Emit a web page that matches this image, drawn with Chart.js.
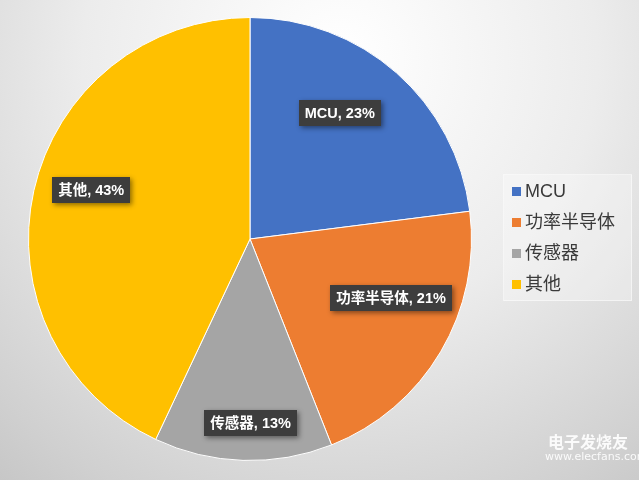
<!DOCTYPE html>
<html>
<head>
<meta charset="utf-8">
<script src="https://cdn.jsdelivr.net/npm/chart.js@4"></script>
<style>
html, body { margin: 0; padding: 0; }
body { width: 639px; height: 480px; overflow: hidden; }
#wrap { position: relative; width: 639px; height: 480px; }
</style>
</head>
<body>
<div id="wrap"><canvas id="pieChart" width="639" height="480"></canvas></div>
<script>
const categories = ['MCU', '功率半导体', '传感器', '其他'];
const shares = [23, 21, 13, 43];
const colors = ['#4472C4', '#ED7D31', '#A5A5A5', '#FFC000'];

const ctx = document.getElementById('pieChart');

// gray radial background like the office chart area
const bgPlugin = {
	id: 'bg',
	beforeDraw(chart){
		const c = chart.ctx;
		const g = c.createRadialGradient(340, 60, 10, 340, 60, 560);
		g.addColorStop(0, '#ffffff');
		g.addColorStop(0.45, '#ececec');
		g.addColorStop(0.85, '#d0d0d0');
		g.addColorStop(1, '#c4c4c4');
		c.save();
		c.fillStyle = g;
		c.fillRect(0, 0, chart.width, chart.height);
		c.restore();
	}
};

// boxed data labels, placed around the mid angle of each slice
const labelPlugin = {
	id: 'boxLabels',
	afterDatasetsDraw(chart, args, opts){
		const c = chart.ctx;
		const meta = chart.getDatasetMeta(0);
		c.save();
		c.font = 'bold 14.5px "Liberation Sans", "Noto Sans CJK SC", sans-serif';
		c.textAlign = 'center';
		c.textBaseline = 'middle';
		meta.data.forEach((arc, i) => {
			const p = arc.getProps(['x', 'y', 'startAngle', 'endAngle', 'outerRadius']);
			const a = (p.startAngle + p.endAngle) / 2 + opts.angleShift[i] * Math.PI / 180;
			const r = p.outerRadius * opts.radius[i];
			const x = p.x + Math.cos(a) * r;
			const y = p.y + Math.sin(a) * r;
			const txt = categories[i] + ', ' + shares[i] + '%';
			const w = c.measureText(txt).width + 12;
			const h = 26;
			c.shadowColor = 'rgba(0,0,0,0.45)';
			c.shadowBlur = 5;
			c.shadowOffsetX = 2;
			c.shadowOffsetY = 2;
			c.fillStyle = '#3d3d3d';
			c.fillRect(Math.round(x - w / 2), Math.round(y - h / 2), Math.round(w), h);
			c.shadowColor = 'transparent';
			c.fillStyle = '#ffffff';
			c.fillText(txt, x, y + 1);
		});
		c.restore();
	}
};

// legend at the right, drawn by hand
const legendPlugin = {
	id: 'sideLegend',
	afterDraw(chart, args, opts){
		const c = chart.ctx;
		c.save();
		c.fillStyle = 'rgba(255,255,255,0.3)';
		c.fillRect(opts.x - 8, opts.y - 17, 128, 126);
		c.strokeStyle = 'rgba(255,255,255,0.5)';
		c.strokeRect(opts.x - 8.5, opts.y - 17.5, 128, 126);
		c.font = '18px "Liberation Sans", "Noto Sans CJK SC", sans-serif';
		c.textBaseline = 'middle';
		categories.forEach((name, i) => {
			const yy = opts.y + i * opts.step;
			c.fillStyle = colors[i];
			c.fillRect(opts.x, yy - 5, 9, 9);
			c.fillStyle = '#3a3a3a';
			c.fillText(name, opts.x + 13, yy);
		});
		c.restore();
	}
};

new Chart(ctx, {
	type: 'pie',
	data: {
		labels: categories,
		datasets: [{
			data: shares,
			backgroundColor: colors,
			borderColor: '#ffffff',
			borderWidth: 1
		}]
	},
	options: {
		responsive: false,
		animation: false,
		layout: { padding: { top: 17, bottom: 19, left: 0, right: 139 } },
		plugins: {
			legend: { display: false },
			tooltip: { enabled: false },
			boxLabels: {
				radius: [0.70, 0.69, 0.83, 0.75],
				angleShift: [-6, -8, -2, 4.5]
			},
			sideLegend: { x: 512, y: 192, step: 31 }
		}
	},
	plugins: [bgPlugin, labelPlugin, legendPlugin]
});

// watermark text
const wm = document.createElement('div');
wm.style.cssText = 'position:absolute;left:548px;top:432px;color:rgba(255,255,255,0.9);font:bold 16px "Noto Sans CJK SC",sans-serif;line-height:18px;';
wm.innerHTML = '电子发烧友<div style="font:11px \'DejaVu Sans\',sans-serif;margin-left:-3px;">www.elecfans.com</div>';
document.getElementById('wrap').appendChild(wm);
</script>
</body>
</html>
